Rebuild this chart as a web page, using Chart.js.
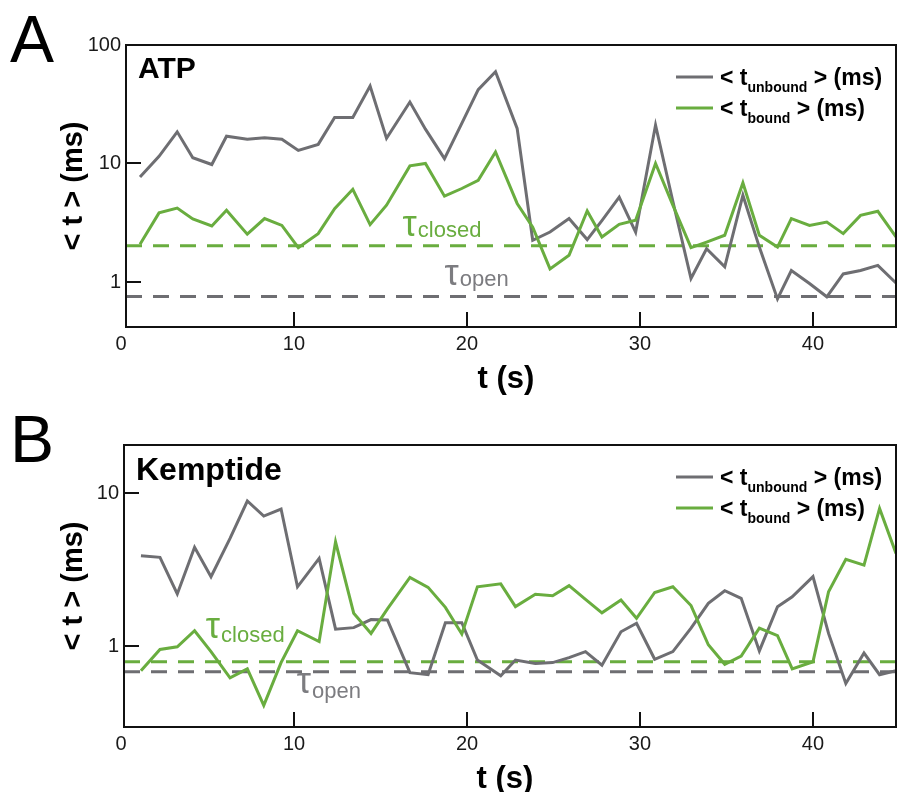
<!DOCTYPE html>
<html><head><meta charset="utf-8">
<script src="https://cdn.jsdelivr.net/npm/chart.js@4/dist/chart.umd.min.js"></script>
<style>
html,body{margin:0;padding:0;background:#fff;}
#wrap{position:relative;width:897px;height:792px;overflow:hidden;}
.pane{position:absolute;left:0;width:897px;height:396px;}
</style></head><body>
<div id="wrap">
<div class="pane" style="top:0"><canvas id="cA" width="897" height="396"></canvas></div>
<div class="pane" style="top:396px"><canvas id="cB" width="897" height="396"></canvas></div>
</div>
<script>
// ---------- DATA ----------
const timeA = [1.1,2.2,3.25,4.15,5.25,6.1,7.3,8.3,9.3,10.25,11.4,12.35,13.4,14.4,15.35,16.7,17.6,18.7,19.7,20.65,21.65,22.9,23.8,24.8,25.9,26.95,27.8,28.8,29.75,30.9,31.9,32.95,33.85,34.9,35.95,36.9,37.95,38.75,39.8,40.8,41.75,42.75,43.75,44.8];
const unboundA = [7.7,11.5,18.5,11.2,9.8,17.0,16.0,16.5,16.0,12.9,14.5,24.5,24.5,45,16.3,33,19.5,11.0,21.8,42,59.5,19.8,2.25,2.64,3.43,2.28,3.3,5.2,2.64,21.1,4.8,1.07,1.91,1.34,5.4,1.97,0.72,1.25,0.97,0.75,1.17,1.25,1.38,0.98];
const boundA = [2.08,3.83,4.2,3.4,2.97,4.03,2.53,3.43,3.0,1.95,2.56,4.16,6.06,3.05,4.45,9.55,10.0,5.3,6.15,7.2,12.5,4.6,2.9,1.29,1.68,3.97,2.4,3.07,3.32,10.0,4.45,1.95,2.17,2.48,6.86,2.48,1.97,3.43,3.0,3.2,2.56,3.65,3.95,2.4];
const tauClosedA = 2.02;
const tauOpenA = 0.755;

const timeB = [1.15,2.25,3.25,4.25,5.2,6.3,7.3,8.25,9.25,10.2,11.45,12.4,13.45,14.45,15.4,16.7,17.75,18.75,19.7,20.6,21.95,22.8,23.95,24.95,25.9,26.85,27.8,28.9,29.8,30.85,31.9,32.95,33.95,34.9,35.85,36.9,37.95,38.8,40.0,40.9,41.9,42.95,43.85,44.8];
const unboundB = [3.89,3.8,2.19,4.42,2.84,5.06,8.87,7.07,7.86,2.44,3.74,1.29,1.32,1.49,1.48,0.67,0.65,1.42,1.42,0.81,0.64,0.81,0.77,0.78,0.84,0.92,0.75,1.24,1.41,0.82,0.92,1.31,1.9,2.3,2.05,0.93,1.81,2.1,2.84,1.21,0.57,0.9,0.65,0.69];
const boundB = [0.69,0.95,0.99,1.26,0.92,0.62,0.71,0.41,0.78,1.26,1.07,4.8,1.64,1.21,1.75,2.81,2.42,1.79,1.2,2.44,2.55,1.81,2.18,2.13,2.48,2.02,1.65,2.0,1.52,2.24,2.44,1.84,1.02,0.76,0.86,1.31,1.17,0.71,0.79,2.26,3.69,3.38,7.94,4.03];
const tauClosedB = 0.79;
const tauOpenB = 0.68;

const xTickValues = [0,10,20,30,40];
const yTicksA = [1,10,100];
const yTicksB = [1,10];
const panelTitles = ['ATP','Kemptide'];
const panelLetters = ['A','B'];

// ---------- STYLE ----------
const GREY = '#6e6e72';
const GREEN = '#69ad3f';
const GREY_TXT = '#7c7c80';
const FONT = '"Liberation Sans", Arial, Helvetica, sans-serif';

function drawRuns(ctx, x, y, runs) {
  for (const r of runs) {
    ctx.font = r.font;
    ctx.fillText(r.t, x, y + (r.dy || 0));
    x += ctx.measureText(r.t).width + (r.gap || 0);
  }
}

const framePlugin = {
  id: 'frame',
  afterDraw(chart) {
    const o = chart.options.plugins.frame;
    const {ctx, chartArea: a} = chart;
    const xs = chart.scales.x, ys = chart.scales.y;
    ctx.save();
    ctx.strokeStyle = '#111';
    ctx.lineWidth = 2;
    ctx.strokeRect(a.left, a.top, a.right - a.left, a.bottom - a.top);
    ctx.beginPath();
    xs.ticks.forEach(t => {
      if (t.value > xs.min && t.value < xs.max) {
        const p = Math.round(xs.getPixelForValue(t.value));
        ctx.moveTo(p, a.bottom); ctx.lineTo(p, a.bottom - 15);
      }
    });
    ys.ticks.forEach(t => {
      if (t.value > ys.min && t.value < ys.max) {
        const p = Math.round(ys.getPixelForValue(t.value));
        ctx.moveTo(a.left, p); ctx.lineTo(a.left + 15, p);
      }
    });
    ctx.stroke();

    ctx.fillStyle = '#000';
    ctx.textAlign = 'left';
    ctx.textBaseline = 'alphabetic';
    ctx.font = `66px ${FONT}`;
    ctx.fillText(o.letter, 10, a.top + 17);
    ctx.font = `bold ${o.titleSize}px ${FONT}`;
    ctx.fillText(o.title, a.left + 12, a.top + o.titleDy);
    ctx.font = `bold 31px ${FONT}`;
    ctx.textAlign = 'center';
    ctx.fillText('t (s)', (a.left + a.right) / 2 - 5, a.bottom + 61);
    ctx.save();
    ctx.translate(74, (a.top + a.bottom) / 2);
    ctx.rotate(-Math.PI / 2);
    ctx.textBaseline = 'middle';
    ctx.font = `bold 29px ${FONT}`;
    ctx.fillText('< t > (ms)', 0, 0);
    ctx.restore();
    ctx.textAlign = 'left';
    ctx.textBaseline = 'alphabetic';

    const rows = [{c: GREY, sub: 'unbound', dy: 32}, {c: GREEN, sub: 'bound', dy: 63}];
    rows.forEach(r => {
      const yy = a.top + r.dy;
      ctx.strokeStyle = r.c; ctx.lineWidth = 3;
      ctx.beginPath(); ctx.moveTo(a.right - 220, yy); ctx.lineTo(a.right - 183, yy); ctx.stroke();
      ctx.fillStyle = '#000';
      drawRuns(ctx, a.right - 176, yy + 8, [
        {t: '< t', font: `bold 23px ${FONT}`},
        {t: r.sub, font: `bold 14px ${FONT}`, dy: 7},
        {t: ' > (ms)', font: `bold 23px ${FONT}`}
      ]);
    });

    o.taus.forEach(t => {
      const px = xs.getPixelForValue(t.x);
      const py = ys.getPixelForValue(t.v) + t.dy;
      ctx.fillStyle = t.color;
      drawRuns(ctx, px, py, [
        {t: '\u03C4', font: `36px ${FONT}`, gap: 1},
        {t: t.sub, font: `22px ${FONT}`, dy: t.subDy}
      ]);
    });
    ctx.restore();
  }
};

function makePanel(id, cfg) {
  const pts = (xs, ys) => xs.map((x, i) => ({x: x, y: ys[i]}));
  return new Chart(document.getElementById(id), {
    type: 'line',
    data: {
      datasets: [
        {label: 'bound', data: pts(cfg.time, cfg.bound), borderColor: GREEN, borderWidth: 3, pointRadius: 0, order: 1, tension: 0},
        {label: 'unbound', data: pts(cfg.time, cfg.unbound), borderColor: GREY, borderWidth: 3, pointRadius: 0, order: 2, tension: 0},
        {label: 'tauClosed', data: [{x: cfg.xMin, y: cfg.tauClosed}, {x: cfg.xMax, y: cfg.tauClosed}], borderColor: GREEN, borderWidth: 3, borderDash: [16, 11], pointRadius: 0, order: 3},
        {label: 'tauOpen', data: [{x: cfg.xMin, y: cfg.tauOpen}, {x: cfg.xMax, y: cfg.tauOpen}], borderColor: GREY, borderWidth: 3, borderDash: [16, 11], pointRadius: 0, order: 4}
      ]
    },
    options: {
      responsive: false,
      animation: false,
      devicePixelRatio: 1,
      layout: {padding: {top: cfg.top, right: 1, left: 0, bottom: 0}},
      plugins: {
        legend: {display: false},
        tooltip: {enabled: false},
        frame: {letter: cfg.letter, title: cfg.title, titleSize: cfg.titleSize, titleDy: cfg.titleDy, taus: cfg.taus}
      },
      scales: {
        x: {
          type: 'linear', min: cfg.xMin, max: cfg.xMax,
          afterBuildTicks: s => { s.ticks = xTickValues.map(v => ({value: v})); },
          afterFit: s => { s.height = cfg.xH; },
          grid: {display: false, drawTicks: false},
          border: {display: false},
          ticks: {font: {family: FONT, size: 20}, color: '#1a1a1a', padding: 5, maxRotation: 0, autoSkip: false, callback: v => String(v)}
        },
        y: {
          type: 'logarithmic', min: cfg.yMin, max: cfg.yMax,
          afterBuildTicks: s => { s.ticks = cfg.yTicks.map(v => ({value: v})); },
          afterFit: s => { s.width = cfg.yW; },
          grid: {display: false, drawTicks: false},
          border: {display: false},
          ticks: {font: {family: FONT, size: 20}, color: '#1a1a1a', padding: 5, autoSkip: false, callback: v => String(v)}
        }
      }
    },
    plugins: [framePlugin]
  });
}

makePanel('cA', {
  time: timeA, unbound: unboundA, bound: boundA,
  tauClosed: tauClosedA, tauOpen: tauOpenA,
  xMin: 0.29, xMax: 44.8, yMin: 0.417, yMax: 100, yTicks: yTicksA,
  top: 45, xH: 69, yW: 126, letter: panelLetters[0], title: panelTitles[0], titleSize: 30, titleDy: 33,
  taus: [
    {x: 16.28, v: tauClosedA, dy: -10, sub: 'closed', subDy: 1, color: GREEN},
    {x: 18.7, v: tauOpenA, dy: -11, sub: 'open', subDy: 1, color: GREY_TXT}
  ]
});
makePanel('cB', {
  time: timeB, unbound: unboundB, bound: boundB,
  tauClosed: tauClosedB, tauOpen: tauOpenB,
  xMin: 0.17, xMax: 44.8, yMin: 0.296, yMax: 20.6, yTicks: yTicksB,
  top: 49, xH: 65, yW: 124, letter: panelLetters[1], title: panelTitles[1], titleSize: 32, titleDy: 35,
  taus: [
    {x: 4.9, v: tauClosedB, dy: -24, sub: 'closed', subDy: 4, color: GREEN},
    {x: 10.16, v: tauOpenB, dy: 21, sub: 'open', subDy: 5, color: GREY_TXT}
  ]
});
</script>
</body></html>
